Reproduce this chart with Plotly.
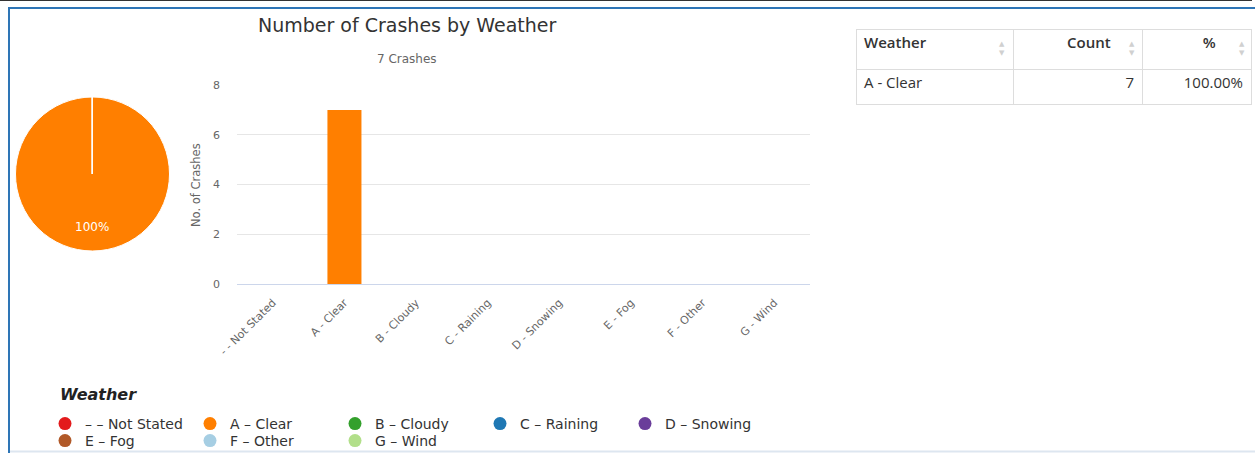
import plotly.graph_objects as go

W, H = 1255, 453

categories = ["- - Not Stated", "A - Clear", "B - Cloudy", "C - Raining",
              "D - Snowing", "E - Fog", "F - Other", "G - Wind"]
legend_labels = ["\u2013 \u2013 Not Stated", "A \u2013 Clear", "B \u2013 Cloudy", "C \u2013 Raining",
                 "D \u2013 Snowing", "E \u2013 Fog", "F \u2013 Other", "G \u2013 Wind"]
counts = [0, 7, 0, 0, 0, 0, 0, 0]
colors = ["#e31a1c", "#ff7f00", "#33a02c", "#1f78b4",
          "#6a3d9a", "#b15928", "#a6cee3", "#b2df8a"]
y_ticks = [0, 2, 4, 6, 8]

table_weather = ["A - Clear"]
table_count = ["7"]
table_pct = ["100.00%"]

title_text = "Number of Crashes by Weather"
subtitle_text = "7 Crashes"

FONT = "DejaVu Sans"


def px(x):
    return x / W


def py(y):
    return 1 - y / H


fig = go.Figure()

# Pie
fig.add_trace(go.Pie(
    labels=categories, values=counts, marker=dict(colors=colors, line=dict(color="white", width=1)),
    textinfo="none", sort=False, direction="clockwise", showlegend=False,
    domain=dict(x=[px(15), px(170)], y=[py(251), py(97)]),
))

# Bars
fig.add_trace(go.Bar(
    x=categories, y=counts, marker=dict(color=colors, line=dict(width=0)),
    showlegend=False, xaxis="x", yaxis="y",
))

# Legend entries (circles), two rows as in the reference
for i, (lab, col) in enumerate(zip(legend_labels, colors)):
    fig.add_trace(go.Scatter(
        x=[None], y=[None], mode="markers", name=lab,
        marker=dict(color=col, size=13, symbol="circle"),
        xaxis="x2", yaxis="y2", legend="legend" if i < 5 else "legend2",
    ))

# Table
fig.add_trace(go.Table(
    domain=dict(x=[px(856), px(1251)], y=[py(300), py(29)]),
    columnwidth=[157, 129, 109],
    header=dict(
        values=["Weather", "Count" + "\u00a0" * 6, "%" + "\u00a0" * 7],
        align=["left", "right", "right"],
        line=dict(color="#dddddd", width=1),
        fill=dict(color="white"),
        font=dict(family="Open Sans", size=15, color="#333333", weight=600),
        height=40,
    ),
    cells=dict(
        values=[table_weather, table_count, table_pct],
        align=["left", "right", "right"],
        line=dict(color="#dddddd", width=1),
        fill=dict(color="white"),
        font=dict(family="Open Sans", size=15, color="#333333"),
        height=35,
    ),
))


def ann(x, y, text, size, color, **kw):
    d = dict(x=px(x), y=py(y), xref="paper", yref="paper", text=text, showarrow=False,
             xanchor="center", yanchor="middle", font=dict(family=FONT, size=size, color=color))
    d.update(kw)
    return d


annotations = [
    ann(407, 25, title_text, 19, "#333333"),
    ann(407, 59, subtitle_text, 12, "#666666"),
    ann(196, 185, "No. of Crashes", 11.5, "#666666", textangle=-90),
    ann(92, 227, "100%", 12, "white"),
    dict(x=px(58), y=py(394), xref="paper", yref="paper", text="Weather", showarrow=False,
         xanchor="left", yanchor="middle",
         font=dict(family=FONT, size=16, color="#222222", weight="bold", style="italic")),
]
for xc in [1002, 1132, 1242]:
    annotations.append(ann(xc, 48.5, "\u25b2<br>\u25bc", 7, "#d0d0d0"))

shapes = [
    dict(type="line", xref="paper", yref="paper", x0=0, x1=px(1252), y0=py(0.5), y1=py(0.5),
         line=dict(color="#333333", width=1)),
    dict(type="line", xref="paper", yref="paper", x0=px(8), x1=1, y0=py(8), y1=py(8),
         line=dict(color="#2e75b6", width=2)),
    dict(type="line", xref="paper", yref="paper", x0=px(9), x1=px(9), y0=py(8), y1=0,
         line=dict(color="#2e75b6", width=2)),
    dict(type="line", xref="paper", yref="paper", x0=px(10), x1=1, y0=py(451.5), y1=py(451.5),
         line=dict(color="#dde6f0", width=2)),
    dict(type="line", xref="paper", yref="paper", x0=px(92), x1=px(92), y0=py(174), y1=py(97),
         line=dict(color="white", width=1.5)),
]

legend_common = dict(orientation="h", xanchor="left", yanchor="middle",
                     entrywidth=100, entrywidthmode="pixels",
                     font=dict(family=FONT, size=14, color="#333333"),
                     bgcolor="rgba(0,0,0,0)", borderwidth=0, itemclick=False,
                     itemdoubleclick=False, tracegroupgap=0)

fig.update_layout(
    width=W, height=H,
    margin=dict(l=0, r=0, t=0, b=0, autoexpand=False),
    paper_bgcolor="white", plot_bgcolor="white",
    font=dict(family=FONT, color="#666666"),
    bargap=0.525,
    xaxis=dict(domain=[px(237), px(810)], type="category", categoryorder="array",
               categoryarray=categories, tickangle=-45, showgrid=False, showline=True,
               linecolor="#ccd6eb", linewidth=1, ticks="", tickfont=dict(size=11, color="#666666"),
               ticklabelstandoff=7, fixedrange=True, automargin=False),
    yaxis=dict(domain=[py(284), py(85)], range=[0, 8], tickvals=y_ticks, showgrid=True,
               gridcolor="#e6e6e6", showline=False, zeroline=False, ticks="",
               tickfont=dict(size=11, color="#666666"), ticklabelstandoff=16, fixedrange=True,
               automargin=False),
    xaxis2=dict(domain=[0, 0.01], visible=False, anchor="y2"),
    yaxis2=dict(domain=[0, 0.01], visible=False, anchor="x2"),
    showlegend=True,
    legend=dict(x=px(45), y=py(424), **legend_common),
    legend2=dict(x=px(45), y=py(441), **legend_common),
    annotations=annotations,
    shapes=shapes,
)

fig.write_html("out.html")
